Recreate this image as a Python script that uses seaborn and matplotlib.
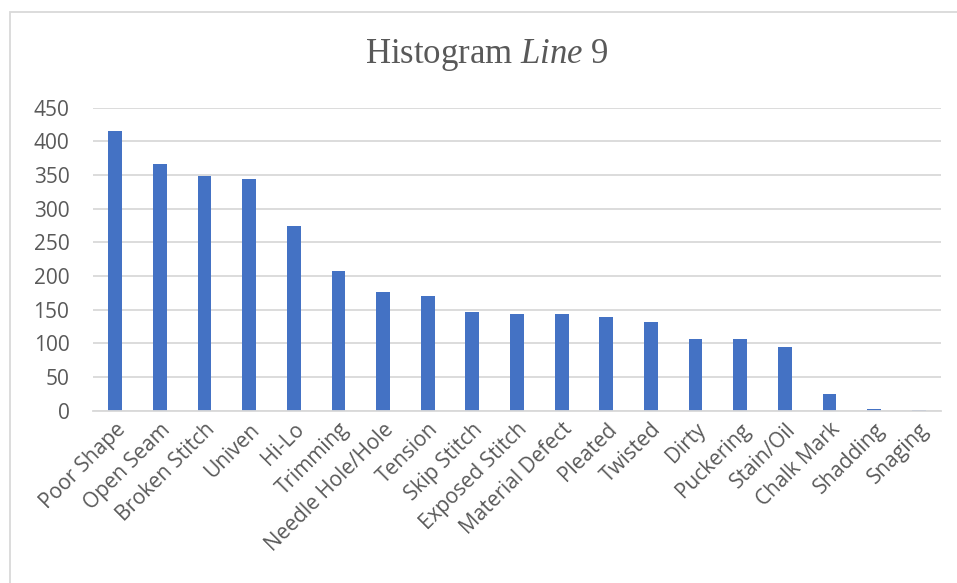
import matplotlib
matplotlib.use("Agg")
import matplotlib.pyplot as plt
import seaborn as sns
import pandas as pd
from matplotlib.patches import Rectangle

categories = ["Poor Shape", "Open Seam", "Broken Stitch", "Univen", "Hi-Lo", "Trimming",
              "Needle Hole/Hole", "Tension", "Skip Stitch", "Exposed Stitch", "Material Defect",
              "Pleated", "Twisted", "Dirty", "Puckering", "Stain/Oil", "Chalk Mark",
              "Shadding", "Snaging"]
counts = [415, 367, 349, 344, 275, 207, 176, 171, 147, 144, 143, 139, 131, 106, 106, 94, 25, 2, 1]
y_ticks = [0, 50, 100, 150, 200, 250, 300, 350, 400, 450]

sns.set_theme(style="white")
plt.rcParams["font.family"] = ["Open Sans", "DejaVu Sans"]
plt.rcParams["mathtext.fontset"] = "custom"
plt.rcParams["mathtext.rm"] = "Liberation Serif"
plt.rcParams["mathtext.it"] = "Liberation Serif:italic"

W, H = 957, 583
fig = plt.figure(figsize=(W / 100, H / 100), dpi=100)
ax = fig.add_axes([93 / W, 1 - 410.7 / H, (941 - 93) / W, (410.7 - 107.7) / H])

df = pd.DataFrame({"defect": categories, "count": counts})
sns.barplot(data=df, x="defect", y="count", color="#4472C4", width=0.31,
            saturation=1, ax=ax, linewidth=0)

ax.set_xlim(-0.5, len(categories) - 0.5)
ax.set_ylim(0, 450)
ax.set_yticks(y_ticks)
ax.set_xlabel("")
ax.set_ylabel("")
ax.yaxis.grid(True, color="#D9D9D9", linewidth=1.3)
ax.set_axisbelow(True)
for side in ["left", "right", "top"]:
    ax.spines[side].set_visible(False)
ax.spines["bottom"].set_color("#D9D9D9")
ax.spines["bottom"].set_linewidth(1.3)
ax.tick_params(axis="both", length=0, colors="#595959", labelsize=15)
ax.tick_params(axis="y", pad=17)
ax.set_xticks(range(len(categories)))
ax.set_xticklabels(categories, rotation=45, ha="right", va="top",
                   rotation_mode="anchor", color="#595959", fontsize=15)
ax.tick_params(axis="x", pad=6)

fig.text(487 / W, 1 - 63 / H, r"$\mathrm{Histogram}\ \mathit{Line}\ \mathrm{9}$",
         ha="center", va="baseline", fontsize=25, color="#595959")

# chart-area frame
fig.patches.append(Rectangle((10 / W, -0.05), 1.1, 1 - 12 / H + 0.05,
                             transform=fig.transFigure, fill=False,
                             edgecolor="#D9D9D9", linewidth=1.3))

fig.savefig("out.png", dpi=100)
